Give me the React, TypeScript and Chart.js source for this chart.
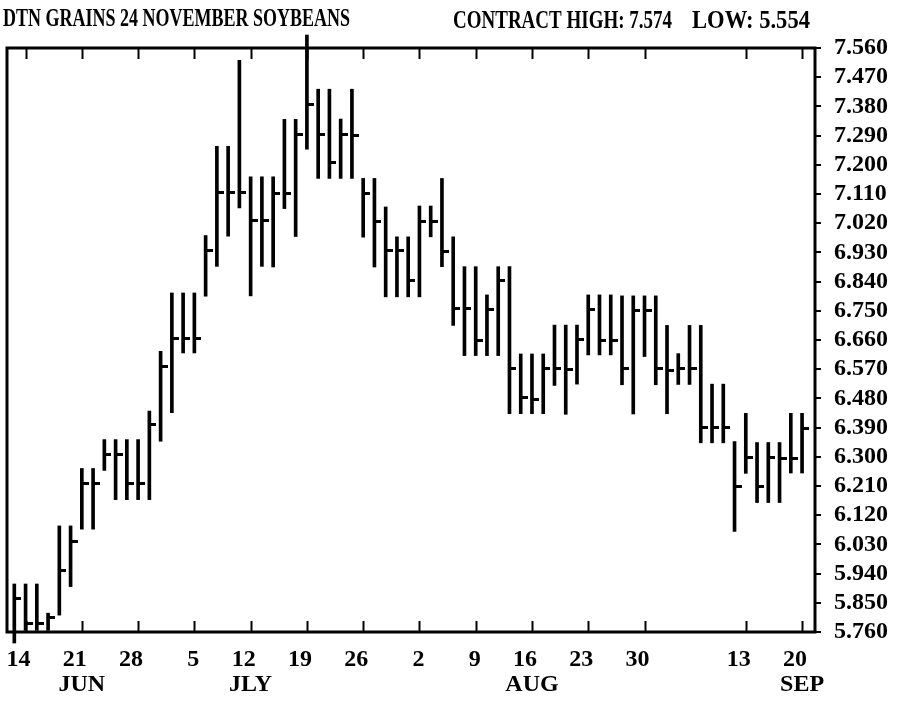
import React, { useEffect, useRef } from 'react';
import { Chart, registerables } from 'chart.js';

Chart.register(...registerables);

// Daily high / low / close, one entry per trading session (Jun 11 .. Sep 20)
const highs = [
  5.908, 5.908, 5.908, 5.818, 6.087, 6.087, 6.264, 6.264, 6.353, 6.353,
  6.353, 6.353, 6.441, 6.625, 6.805, 6.805, 6.805, 6.982, 7.257, 7.257,
  7.522, 7.163, 7.163, 7.163, 7.340, 7.340, 7.600, 7.433, 7.433, 7.341,
  7.433, 7.158, 7.158, 7.070, 6.978, 6.978, 7.073, 7.073, 7.158, 6.978,
  6.886, 6.886, 6.799, 6.886, 6.886, 6.617, 6.617, 6.617, 6.706, 6.706,
  6.706, 6.799, 6.799, 6.799, 6.796, 6.796, 6.796, 6.796, 6.705, 6.618,
  6.705, 6.705, 6.524, 6.524, 6.347, 6.434, 6.344, 6.344, 6.344, 6.434,
  6.434,
];
const lows = [
  5.726, 5.765, 5.765, 5.765, 5.812, 5.900, 6.077, 6.077, 6.258, 6.168,
  6.168, 6.168, 6.168, 6.348, 6.436, 6.620, 6.620, 6.795, 6.887, 6.980,
  7.067, 6.796, 6.887, 6.885, 7.065, 6.979, 7.248, 7.158, 7.158, 7.158,
  7.158, 6.977, 6.885, 6.793, 6.793, 6.793, 6.793, 6.978, 6.886, 6.705,
  6.612, 6.612, 6.612, 6.612, 6.433, 6.433, 6.433, 6.433, 6.520, 6.431,
  6.524, 6.614, 6.614, 6.614, 6.522, 6.432, 6.609, 6.522, 6.433, 6.523,
  6.523, 6.343, 6.343, 6.343, 6.070, 6.249, 6.159, 6.159, 6.159, 6.250,
  6.250,
];
const closes = [
  5.862, 5.785, 5.785, 5.805, 5.949, 6.038, 6.218, 6.218, 6.308, 6.308,
  6.218, 6.218, 6.400, 6.579, 6.666, 6.666, 6.666, 6.936, 7.115, 7.115,
  7.115, 7.027, 7.027, 7.113, 7.113, 7.294, 7.386, 7.294, 7.207, 7.294,
  7.290, 7.113, 7.025, 6.936, 6.936, 6.844, 7.026, 7.026, 6.932, 6.756,
  6.756, 6.660, 6.753, 6.842, 6.572, 6.482, 6.477, 6.572, 6.573, 6.570,
  6.662, 6.755, 6.659, 6.659, 6.571, 6.750, 6.750, 6.571, 6.567, 6.571,
  6.571, 6.390, 6.390, 6.390, 6.208, 6.298, 6.208, 6.298, 6.295, 6.295,
  6.386,
];

// Weekly (Monday) tick positions as session indices, and their labels
const weekTickIdx = [1, 6, 11, 16, 21, 26, 31, 36, 41, 46, 51, 56, 65, 70];
const weekTickLabels = ['14', '21', '28', '5', '12', '19', '26', '2', '9', '16', '23', '30', '13', '20'];
const monthTickIdx = [6, 21, 46, 70];
const monthTickLabels = ['JUN', 'JLY', 'AUG', 'SEP'];
const priceTicks = [
  5.76, 5.85, 5.94, 6.03, 6.12, 6.21, 6.30, 6.39, 6.48, 6.57, 6.66,
  6.75, 6.84, 6.93, 7.02, 7.11, 7.20, 7.29, 7.38, 7.47, 7.56,
];

const titleText = 'DTN GRAINS 24 NOVEMBER SOYBEANS';
const highText = 'CONTRACT HIGH: 7.574';
const lowText = 'LOW: 5.554';

const FONT = '"Liberation Serif", "Times New Roman", serif';
const X_MIN = -0.65;
const X_MAX = 71.15;

export default function App() {
  const canvasRef = useRef<HTMLCanvasElement | null>(null);

  useEffect(() => {
    const canvas = canvasRef.current;
    if (!canvas) return;

    const tickImg = document.createElement('canvas');
    tickImg.width = 14;
    tickImg.height = 3;
    const tctx = tickImg.getContext('2d');
    if (tctx) {
      tctx.fillStyle = '#000';
      tctx.fillRect(7, 0, 7, 3);
    }

    const framePlugin = {
      id: 'frame',
      beforeDatasetsDraw(chart: any) {
        const { ctx, chartArea } = chart;
        const xs = chart.scales.x;
        ctx.save();
        ctx.strokeStyle = '#000';
        ctx.lineWidth = 3;
        ctx.strokeRect(chartArea.left, chartArea.top, chartArea.right - chartArea.left, chartArea.bottom - chartArea.top);
        ctx.lineWidth = 2;
        ctx.beginPath();
        weekTickIdx.forEach((v) => {
          const px = Math.round(xs.getPixelForValue(v)) + 0.5;
          ctx.moveTo(px, chartArea.bottom);
          ctx.lineTo(px, chartArea.bottom - 11);
          ctx.moveTo(px, chartArea.top);
          ctx.lineTo(px, chartArea.top + 11);
        });
        ctx.stroke();
        ctx.restore();
      },
    };

    const headerPlugin = {
      id: 'header',
      afterDraw(chart: any) {
        const { ctx } = chart;
        const drawFit = (text: string, x: number, y: number, width: number) => {
          ctx.save();
          ctx.font = `bold 25px ${FONT}`;
          ctx.fillStyle = '#000';
          ctx.textBaseline = 'alphabetic';
          ctx.textAlign = 'left';
          const w = ctx.measureText(text).width;
          ctx.translate(x, y);
          ctx.scale(width / w, 1);
          ctx.fillText(text, 0, 0);
          ctx.restore();
        };
        drawFit(titleText, 3, 26, 347);
        drawFit(highText, 453, 28, 219);
        drawFit(lowText, 692, 28, 118);
      },
    };

    const noPad = (s: any) => {
      s.paddingLeft = 0;
      s.paddingRight = 0;
    };

    const chart = new Chart(canvas, {
      type: 'bar',
      data: {
        datasets: [
          {
            type: 'bar',
            label: 'High-Low',
            data: highs.map((h, i) => ({ x: i, y: [lows[i], h] })) as any,
            backgroundColor: '#000',
            borderWidth: 0,
            barThickness: 3,
            clip: false as any,
            order: 1,
            xAxisID: 'x',
            yAxisID: 'y',
          },
          {
            type: 'line',
            label: 'Close',
            data: closes.map((c, i) => ({ x: i, y: c })) as any,
            showLine: false,
            pointStyle: tickImg as any,
            pointRadius: 3,
            pointHoverRadius: 3,
            clip: false as any,
            order: 0,
            xAxisID: 'x',
            yAxisID: 'y',
          },
        ],
      },
      options: {
        animation: false,
        responsive: false,
        maintainAspectRatio: false,
        events: [],
        layout: { padding: { left: 7, top: 48, right: 0, bottom: 0 } },
        plugins: {
          legend: { display: false },
          tooltip: { enabled: false },
          title: { display: false },
        },
        scales: {
          x: {
            type: 'linear',
            position: 'bottom',
            weight: 0,
            min: X_MIN,
            max: X_MAX,
            offset: false,
            grid: { display: false, drawTicks: false, tickLength: 0 },
            border: { display: false },
            afterBuildTicks: (s: any) => {
              s.ticks = weekTickIdx.map((v) => ({ value: v }));
            },
            afterFit: (s: any) => {
              s.height = 38;
              noPad(s);
            },
            ticks: {
              autoSkip: false,
              maxRotation: 0,
              minRotation: 0,
              align: 'end',
              labelOffset: 5,
              padding: 13,
              color: '#000',
              font: { family: FONT, size: 24, weight: 'bold' },
              callback: (v: any) => {
                const k = weekTickIdx.indexOf(Number(v));
                return k >= 0 ? weekTickLabels[k] : '';
              },
            },
          },
          x2: {
            type: 'linear',
            position: 'bottom',
            weight: 1,
            min: X_MIN,
            max: X_MAX,
            offset: false,
            grid: { display: false, drawTicks: false, tickLength: 0 },
            border: { display: false },
            afterBuildTicks: (s: any) => {
              s.ticks = monthTickIdx.map((v) => ({ value: v }));
            },
            afterFit: (s: any) => {
              s.height = 37;
              noPad(s);
            },
            ticks: {
              autoSkip: false,
              maxRotation: 0,
              minRotation: 0,
              padding: 0,
              color: '#000',
              font: { family: FONT, size: 24, weight: 'bold' },
              callback: (v: any) => {
                const k = monthTickIdx.indexOf(Number(v));
                return k >= 0 ? monthTickLabels[k] : '';
              },
            },
          },
          y: {
            type: 'linear',
            position: 'right',
            min: 5.76,
            max: 7.56,
            grid: {
              display: true,
              drawOnChartArea: false,
              drawTicks: true,
              tickLength: 6,
              lineWidth: 2,
              color: '#000',
            },
            border: { display: false },
            afterBuildTicks: (s: any) => {
              s.ticks = priceTicks.map((v) => ({ value: v }));
            },
            afterFit: (s: any) => {
              s.width = 82;
            },
            ticks: {
              autoSkip: false,
              padding: 13,
              color: '#000',
              font: { family: FONT, size: 24, weight: 'bold' },
              callback: (v: any) => Number(v).toFixed(3),
            },
          },
        },
      } as any,
      plugins: [framePlugin, headerPlugin],
    });

    return () => {
      chart.destroy();
    };
  }, []);

  return (
    <div style={{ position: 'fixed', left: 0, top: 0, width: 897, height: 707, background: '#fff' }}>
      <canvas ref={canvasRef} width={897} height={707} style={{ display: 'block', width: 897, height: 707 }} />
    </div>
  );
}
